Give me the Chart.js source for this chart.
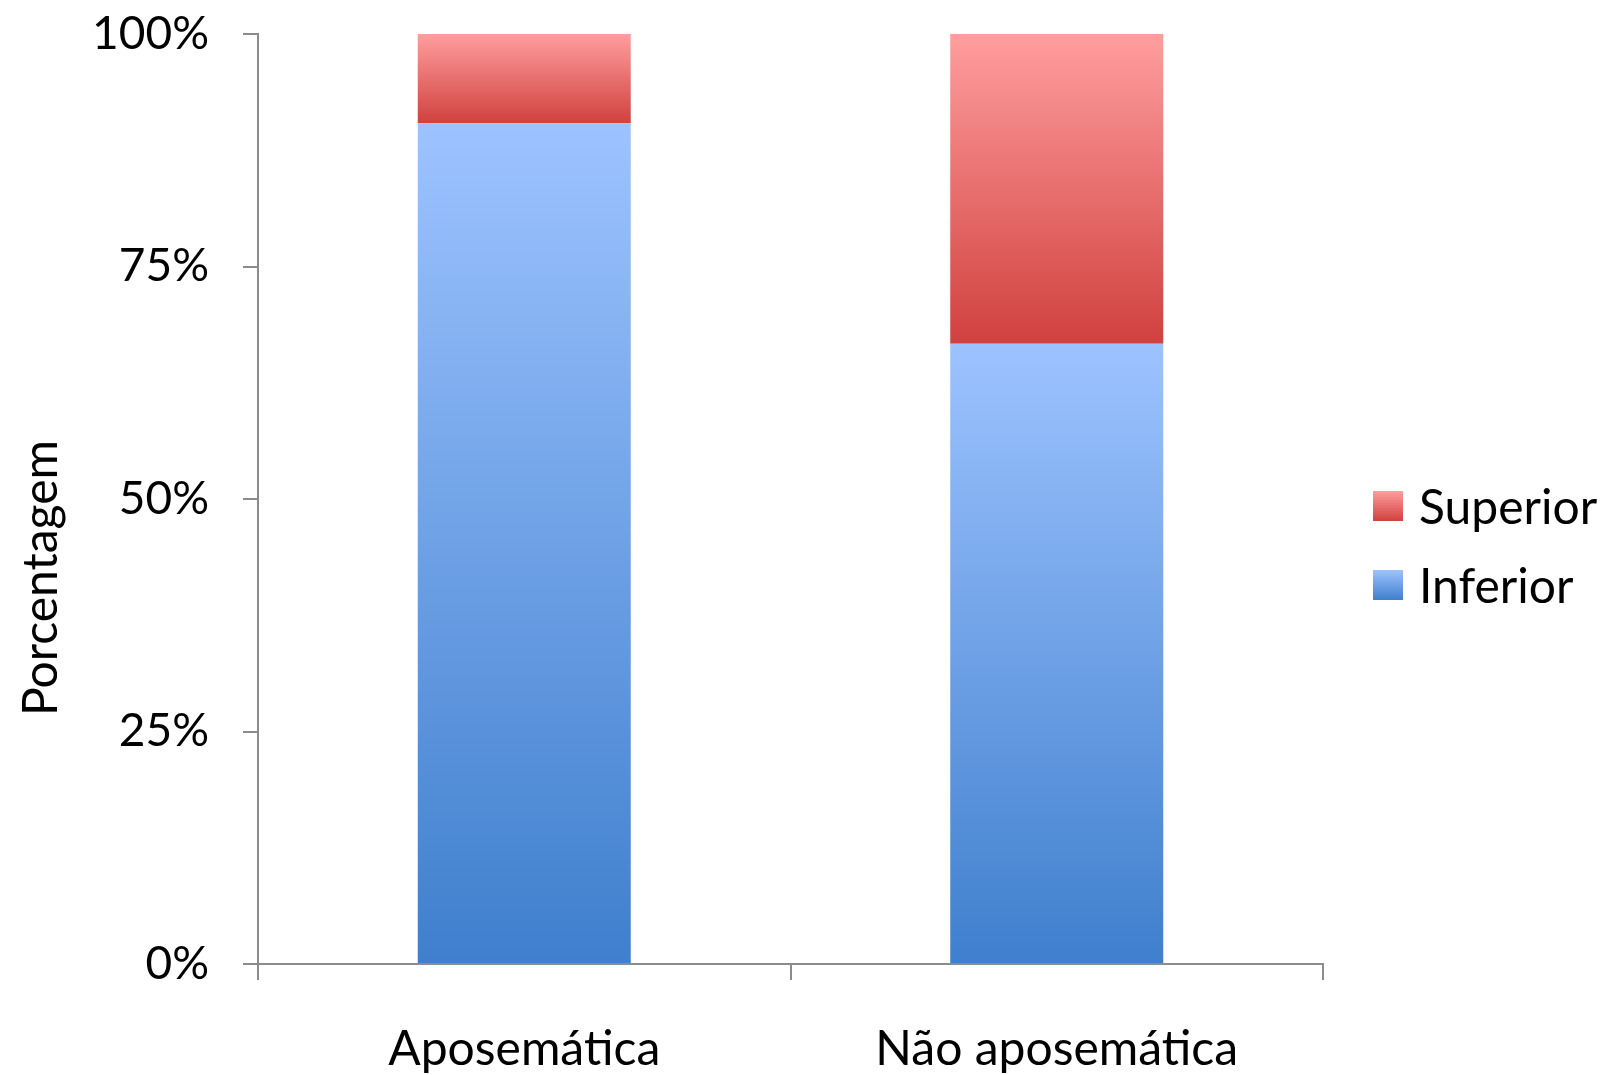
<!DOCTYPE html>
<html>
<head>
<meta charset="utf-8">
<script src="https://cdn.jsdelivr.net/npm/chart.js@4/dist/chart.umd.min.js"></script>
<style>
  html, body { margin: 0; padding: 0; background: #fff; }
  #wrap { position: relative; width: 1612px; height: 1075px; font-family: Lato, 'Open Sans', sans-serif; }
  #c { position: absolute; left: 0; top: 0; }
  .ytitle {
    position: absolute; left: 39px; top: 578px;
    transform: translate(-50%, -50%) rotate(-90deg);
    font-size: 48px; color: #000; white-space: nowrap; line-height: 1;
  }
  .leg { position: absolute; left: 1373px; font-size: 48px; color: #000; line-height: 1; white-space: nowrap; }
  .leg .box { display: inline-block; width: 30px; height: 30px; vertical-align: middle; margin-right: 16px; }
  .leg span { vertical-align: middle; }
</style>
</head>
<body>
<div id="wrap">
  <canvas id="c" width="1612" height="1075"></canvas>
  <div class="ytitle">Porcentagem</div>
  <div class="leg" style="top:476px"><i class="box" style="background:linear-gradient(#ff9e9e,#d0413f)"></i><span>Superior</span></div>
  <div class="leg" style="top:555px"><i class="box" style="background:linear-gradient(#9dc3ff,#3f7fcd)"></i><span>Inferior</span></div>
</div>
<script>
// ── DATA ──────────────────────────────────────────────
const categories = ['Aposemática', 'Não aposemática'];
const inferior   = [90.4, 66.7];
const superior   = [9.6, 33.3];
const yTicks     = [0, 25, 50, 75, 100];

const axisColor = '#8c8c8c';
const font = 'Lato, "Open Sans", sans-serif';

// gradient for one stacked segment, light at top, dark at bottom
function segFill(lo, hi, light, dark) {
  return c => {
    const chart = c.chart;
    if (c.type !== 'data' || !chart.chartArea) return dark;
    const y = chart.scales.y;
    const i = c.dataIndex;
    const top = y.getPixelForValue(hi(i));
    const bot = y.getPixelForValue(lo(i));
    const g = chart.ctx.createLinearGradient(0, top, 0, bot);
    g.addColorStop(0, light);
    g.addColorStop(1, dark);
    return g;
  };
}

new Chart(document.getElementById('c'), {
  type: 'bar',
  data: {
    labels: categories,
    datasets: [
      {
        label: 'Inferior',
        data: inferior,
        backgroundColor: segFill(i => 0, i => inferior[i], '#9dc3ff', '#3f7fcd'),
        borderWidth: 0,
        barPercentage: 0.4,
        categoryPercentage: 1
      },
      {
        label: 'Superior',
        data: superior,
        backgroundColor: segFill(i => inferior[i], i => inferior[i] + superior[i], '#ff9e9e', '#d0413f'),
        borderWidth: 0,
        barPercentage: 0.4,
        categoryPercentage: 1
      }
    ]
  },
  options: {
    responsive: false,
    animation: false,
    layout: { padding: { top: 34, right: 289, left: 0, bottom: 0 } },
    plugins: { legend: { display: false }, tooltip: { enabled: false } },
    scales: {
      x: {
        stacked: true,
        afterFit: s => { s.height = 111; s.paddingLeft = 0; s.paddingRight = 0; },
        border: { color: axisColor, width: 2 },
        grid: { display: true, drawOnChartArea: false, drawTicks: true, tickLength: 16, color: axisColor, lineWidth: 2, offset: true },
        ticks: { color: '#000', font: { family: font, size: 48 }, padding: 41 }
      },
      y: {
        stacked: true,
        min: 0, max: 100,
        afterFit: s => { s.width = 258; s.paddingTop = 0; s.paddingBottom = 0; },
        afterBuildTicks: s => { s.ticks = yTicks.map(v => ({ value: v })); },
        border: { color: axisColor, width: 2 },
        grid: { display: true, drawOnChartArea: false, drawTicks: true, tickLength: 15, color: axisColor, lineWidth: 2 },
        ticks: { color: '#000', font: { family: font, size: 46 }, padding: 34, callback: v => v + '%' }
      }
    }
  }
});
</script>
</body>
</html>
